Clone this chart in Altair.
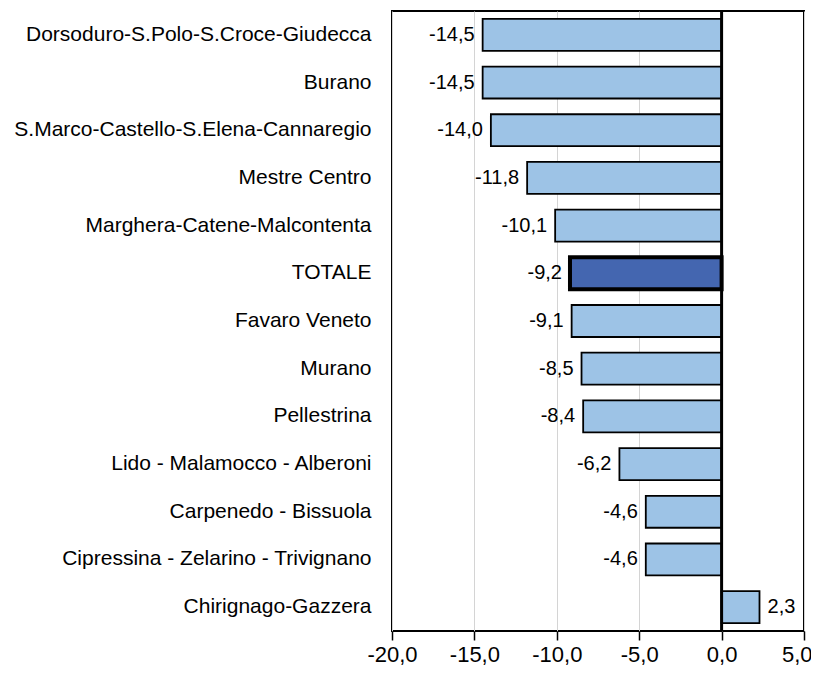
import altair as alt
import pandas as pd

categories = [
    "Dorsoduro-S.Polo-S.Croce-Giudecca",
    "Burano",
    "S.Marco-Castello-S.Elena-Cannaregio",
    "Mestre Centro",
    "Marghera-Catene-Malcontenta",
    "TOTALE",
    "Favaro Veneto",
    "Murano",
    "Pellestrina",
    "Lido - Malamocco - Alberoni",
    "Carpenedo - Bissuola",
    "Cipressina - Zelarino - Trivignano",
    "Chirignago-Gazzera",
]
values = [-14.5, -14.5, -14.0, -11.8, -10.1, -9.2, -9.1, -8.5, -8.4, -6.2, -4.6, -4.6, 2.3]
x_ticks = [-20, -15, -10, -5, 0, 5]

df = pd.DataFrame({"cat": categories, "v": values})

FONT = "Liberation Sans"
FMT = "replace(replace(format({0}, '.1f'), '.', ','), '\u2212', '-')"

y_enc = alt.Y(
    "cat:N",
    sort=categories,
    scale=alt.Scale(paddingInner=0.33, paddingOuter=0.165),
    axis=alt.Axis(
        title=None, ticks=False, domain=False, labelFontSize=21, labelFont=FONT,
        labelColor="black", labelPadding=21, labelLimit=420,
    ),
)
x_enc = alt.X(
    "v:Q",
    scale=alt.Scale(domain=[-20, 5], nice=False, zero=False),
    axis=alt.Axis(
        title=None, values=x_ticks, grid=True, gridColor="#d4d4d4", gridWidth=1,
        tickColor="black", tickSize=9, tickWidth=1.5, domain=False,
        labelFontSize=22, labelFont=FONT, labelColor="black", labelPadding=4,
        labelOverlap=False, labelFlush=False,
        labelAlign={"condition": {"test": "datum.value == 5", "value": "right"}, "value": "center"},
        labelOffset={"condition": {"test": "datum.value == 5", "value": 8}, "value": 0},
        labelExpr=FMT.format("datum.value"),
    ),
)

base = alt.Chart(df)

bars = base.mark_bar(stroke="black").encode(
    y=y_enc,
    x=x_enc,
    x2=alt.datum(0),
    color=alt.condition(alt.datum.cat == "TOTALE", alt.value("#4466B0"), alt.value("#9DC3E6")),
    strokeWidth=alt.condition(alt.datum.cat == "TOTALE", alt.value(4), alt.value(1.8)),
)

label_calc = FMT.format("datum.v")

neg_text = base.transform_filter("datum.v < 0").transform_calculate(lab=label_calc).mark_text(
    align="right", baseline="middle", dx=-8, fontSize=20, font=FONT, color="black"
).encode(y=alt.Y("cat:N", sort=categories), x="v:Q", text="lab:N")

pos_text = base.transform_filter("datum.v >= 0").transform_calculate(lab=label_calc).mark_text(
    align="left", baseline="middle", dx=8, fontSize=20, font=FONT, color="black"
).encode(y=alt.Y("cat:N", sort=categories), x="v:Q", text="lab:N")

zero_rule = alt.Chart(pd.DataFrame({"z": [0]})).mark_rule(color="black", strokeWidth=3).encode(
    x=alt.X("z:Q")
)

chart = alt.layer(bars, neg_text, pos_text, zero_rule).properties(
    width=412,
    height=620,
    autosize=alt.AutoSizeParams(type="none"),
    padding={"left": 384, "top": 3, "right": 7, "bottom": 34},
    background="white",
).configure_view(stroke="black", strokeWidth=2)

chart.save("out.html", embed_options={"renderer": "svg", "actions": False})
